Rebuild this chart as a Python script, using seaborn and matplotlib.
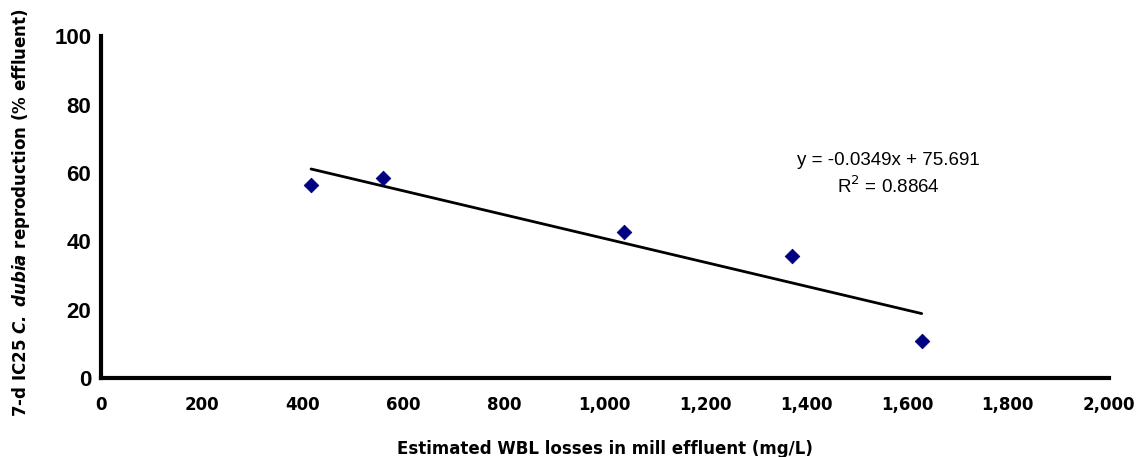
import matplotlib
matplotlib.use("Agg")
import matplotlib.pyplot as plt
import seaborn as sns
import numpy as np
import pandas as pd
from matplotlib.ticker import FuncFormatter

# WBL losses (mg/L) vs 7-d IC25 C. dubia reproduction (% effluent)
wbl_losses = [417, 560, 1038, 1371, 1629]
ic25 = [56.4, 58.5, 42.7, 35.7, 10.8]
slope = -0.0349
intercept = 75.691
r_squared = 0.8864

x_ticks = list(range(0, 2001, 200))
y_ticks = list(range(0, 101, 20))

df = pd.DataFrame({"wbl": wbl_losses, "ic25": ic25})
fit_x = np.array([min(wbl_losses), max(wbl_losses)])
fit_df = pd.DataFrame({"wbl": fit_x, "fit": slope * fit_x + intercept})

sns.set_style("white")
plt.rcParams["mathtext.fontset"] = "dejavusans"
plt.rcParams["text.color"] = "black"
plt.rcParams["axes.labelcolor"] = "black"
plt.rcParams["xtick.color"] = "black"
plt.rcParams["ytick.color"] = "black"

fig = plt.figure(figsize=(11.36, 4.57), dpi=100)
ax = fig.add_axes([0.0889, 0.1729, 0.887, 0.748])

sns.lineplot(data=fit_df, x="wbl", y="fit", color="black", linewidth=2, ax=ax)
sns.scatterplot(data=df, x="wbl", y="ic25", marker="D", s=55, color="#000080",
                edgecolor="#000080", ax=ax, zorder=3)

ax.set_xlim(0, 2000)
ax.set_ylim(0, 100)
ax.set_xticks(x_ticks)
ax.set_yticks(y_ticks)
ax.xaxis.set_major_formatter(FuncFormatter(lambda v, p: f"{int(v):,}"))

for side in ["top", "right"]:
    ax.spines[side].set_visible(False)
for side in ["left", "bottom"]:
    ax.spines[side].set_linewidth(3)
    ax.spines[side].set_color("black")

ax.tick_params(axis="both", direction="in", length=6, width=2.5, color="black")
ax.tick_params(axis="x", pad=13)
ax.tick_params(axis="y", pad=7)
for lbl in ax.get_yticklabels():
    lbl.set_fontfamily("Liberation Sans")
    lbl.set_fontstretch("normal")
    lbl.set_fontweight("bold")
    lbl.set_fontsize(16)
for lbl in ax.get_xticklabels():
    lbl.set_fontfamily("Liberation Sans Narrow")
    lbl.set_fontweight("bold")
    lbl.set_fontsize(12)

ax.set_xlabel("Estimated WBL losses in mill effluent (mg/L)", fontsize=12,
              fontweight="bold", family="DejaVu Sans", fontstretch="normal", labelpad=19)
ax.set_ylabel(r"7-d IC25 $\mathbfit{C.\ dubia}$ reproduction (% effluent)", fontsize=12,
              fontweight="bold", family="DejaVu Sans", fontstretch="normal", labelpad=10)
ax.yaxis.set_label_coords(-0.068, 0.485)

ax.text(1562, 63.7, f"y = {slope}x + {intercept}", ha="center", va="center",
        fontsize=13.5, family="Liberation Sans", fontstretch="normal")
ax.text(1562, 56.1, f"R$^2$ = {r_squared}", ha="center", va="center",
        fontsize=13.5, family="Liberation Sans", fontstretch="normal")

fig.savefig("out.png", dpi=100, facecolor="white")
